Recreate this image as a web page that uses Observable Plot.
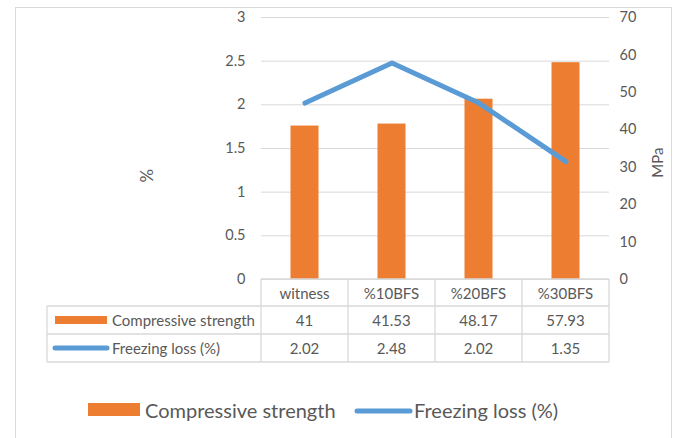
<!DOCTYPE html>
<html><head><meta charset="utf-8">
<script src="https://cdn.jsdelivr.net/npm/d3@7"></script>
<script src="https://cdn.jsdelivr.net/npm/@observablehq/plot@0.6"></script>
<style>
body{margin:0;background:#fff;}
#chart{position:relative;width:677px;height:438px;overflow:hidden;}
</style></head><body><div id="chart"></div>
<script>
const categories = ["witness", "%10BFS", "%20BFS", "%30BFS"];
const compressiveStrength = [41, 41.53, 48.17, 57.93];   // MPa (right axis)
const freezingLoss = [2.02, 2.48, 2.02, 1.35];           // % (left axis)
const leftTicks = [0, 0.5, 1, 1.5, 2, 2.5, 3];
const rightTicks = [0, 10, 20, 30, 40, 50, 60, 70];
const seriesNames = ["Compressive strength", "Freezing loss (%)"];
const leftLabel = "%";
const rightLabel = "MPa";

const ORANGE = "#ed7d31", BLUE = "#5b9bd5", GRID = "#d9d9d9", TEXT = "#595959";
const k = 3 / 70; // MPa -> % axis
const data = categories.map((c, i) => ({cat: c, cs: compressiveStrength[i], fl: freezingLoss[i]}));

const W = 677, H = 438, mL = 261, mR = 68, mT = 17, mB = 159;
const chart = Plot.plot({
  width: W, height: H, marginLeft: mL, marginRight: mR, marginTop: mT, marginBottom: mB,
  style: {fontFamily: "Lato, sans-serif", fontSize: "14px", color: TEXT, background: "transparent", overflow: "visible"},
  x: {type: "band", domain: categories, padding: 0, axis: null},
  y: {domain: [0, 3], axis: null},
  marks: [
    Plot.ruleY(leftTicks, {stroke: GRID, strokeWidth: 1}),
    Plot.barY(data, {x: "cat", y: d => d.cs * k, fill: ORANGE, insetLeft: 29.5, insetRight: 29.5}),
    Plot.line(data, {x: "cat", y: "fl", stroke: BLUE, strokeWidth: 5, strokeLinecap: "round", strokeLinejoin: "round"}),
    Plot.axisY(leftTicks, {anchor: "left", tickSize: 0, tickPadding: 16, tickFormat: d => String(d), label: null, fontSize: 14.5}),
    Plot.axisY(rightTicks.map(v => v * k), {anchor: "right", tickSize: 0, tickPadding: 10, tickFormat: d => String(Math.round(d / k)), label: null, fontSize: 14.5}),
    Plot.text([leftLabel], {frameAnchor: "left", dx: -114, dy: 34, rotate: -90, fontSize: 17, fill: TEXT}),
    Plot.text([rightLabel], {frameAnchor: "right", dx: 49, dy: -1, rotate: -90, fontSize: 15, fill: TEXT})
  ]
});

const svg = d3.select(chart);
// outer chart border
svg.insert("rect", ":first-child").attr("x", 15.5).attr("y", 7.5).attr("width", 656).attr("height", 450)
  .attr("fill", "white").attr("stroke", GRID);

// data table using the plot's x scale
const xs = chart.scale("x");
const bw = xs.bandwidth;
const x0 = xs.apply(categories[0]);
const x1 = xs.apply(categories[categories.length - 1]) + bw;
const yTop = H - mB, r1 = yTop + 27, r2 = r1 + 28, r3 = r2 + 28, tLeft = 47;
const g = svg.append("g").attr("stroke", GRID).attr("stroke-width", 1.3).attr("fill", "none");
g.append("line").attr("x1", x0).attr("x2", x1).attr("y1", yTop).attr("y2", yTop);
[r1, r2, r3].forEach(y => g.append("line").attr("x1", tLeft).attr("x2", x1).attr("y1", y).attr("y2", y));
g.append("line").attr("x1", tLeft).attr("x2", tLeft).attr("y1", r1).attr("y2", r3);
categories.forEach(c => g.append("line").attr("x1", xs.apply(c)).attr("x2", xs.apply(c)).attr("y1", yTop).attr("y2", r3));
g.append("line").attr("x1", x1).attr("x2", x1).attr("y1", yTop).attr("y2", r3);

const tg = svg.append("g").attr("font-family", "Lato, sans-serif").attr("font-size", 15).attr("fill", TEXT)
  .attr("text-anchor", "middle").attr("dominant-baseline", "central");
categories.forEach((c, i) => {
  const cx = xs.apply(c) + bw / 2;
  tg.append("text").attr("x", cx).attr("y", (yTop + r1) / 2).text(c);
  tg.append("text").attr("x", cx).attr("y", (r1 + r2) / 2).text(String(compressiveStrength[i]));
  tg.append("text").attr("x", cx).attr("y", (r2 + r3) / 2).text(String(freezingLoss[i]));
});
// row headers with legend keys
svg.append("rect").attr("x", 55).attr("y", (r1 + r2) / 2 - 4).attr("width", 52).attr("height", 8).attr("fill", ORANGE);
svg.append("line").attr("x1", 55).attr("x2", 107).attr("y1", (r2 + r3) / 2).attr("y2", (r2 + r3) / 2)
  .attr("stroke", BLUE).attr("stroke-width", 5).attr("stroke-linecap", "round");
tg.append("text").attr("x", 112).attr("y", (r1 + r2) / 2).attr("text-anchor", "start").text(seriesNames[0]);
tg.append("text").attr("x", 112).attr("y", (r2 + r3) / 2).attr("text-anchor", "start").text(seriesNames[1]);

// bottom legend
const ly = 410;
const lg = svg.append("g").attr("font-family", "Lato, sans-serif").attr("font-size", 20).attr("fill", TEXT)
  .attr("text-anchor", "start").attr("dominant-baseline", "central");
lg.append("rect").attr("x", 88).attr("y", ly - 7).attr("width", 52).attr("height", 13).attr("fill", ORANGE);
lg.append("text").attr("x", 145).attr("y", ly).text(seriesNames[0]);
lg.append("line").attr("x1", 357).attr("x2", 410).attr("y1", ly + 1).attr("y2", ly + 1)
  .attr("stroke", BLUE).attr("stroke-width", 5).attr("stroke-linecap", "round");
lg.append("text").attr("x", 414).attr("y", ly).text(seriesNames[1]);

document.getElementById("chart").appendChild(chart);
</script></body></html>
